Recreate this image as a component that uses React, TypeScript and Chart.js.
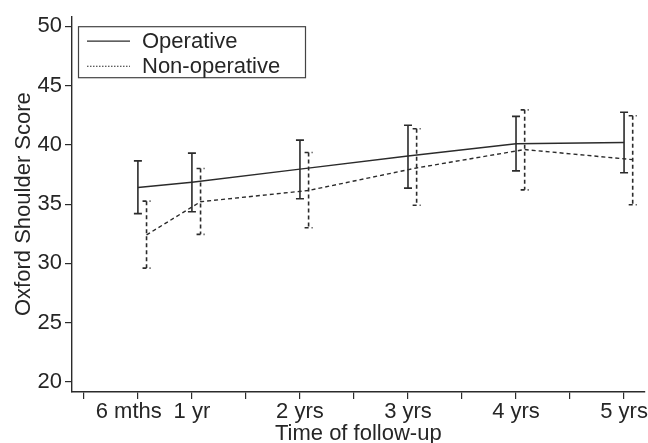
import React, { useEffect, useRef } from 'react';
import { Chart, registerables } from 'chart.js';

Chart.register(...registerables);

// ---- Data ----
const timePoints = [0.5, 1, 2, 3, 4, 5];
const timeLabels = ['6 mths\u00a0\u00a0\u00a0', '1 yr', '2 yrs', '3 yrs', '4 yrs', '5 yrs'];
const xTickValues = [0, 0.5, 1, 1.5, 2, 2.5, 3, 3.5, 4, 4.5, 5];
const yTickValues = [20, 25, 30, 35, 40, 45, 50];

const operativeMean = [36.4, 36.85, 37.95, 39.05, 40.1, 40.2];
const operativeUpper = [38.65, 39.3, 40.4, 41.65, 42.4, 42.75];
const operativeLower = [34.2, 34.35, 35.45, 36.35, 37.8, 37.65];

const nonOperativeMean = [32.4, 35.2, 36.15, 38.05, 39.6, 38.75];
const nonOperativeUpper = [35.25, 38.0, 39.35, 41.35, 42.95, 42.45];
const nonOperativeLower = [29.6, 32.45, 33.0, 34.9, 36.2, 34.95];

const seriesNames = ['Operative', 'Non-operative'];
const NONOP_SHIFT = 0.08; // years, horizontal dodge of the second series

const FONT = "'Liberation Sans', Arial, Helvetica, sans-serif";
const FS = 22;
const INK = '#262626';
const LINE = '#2b2b2b';

const errorBarPlugin = {
  id: 'errorBars',
  afterDatasetsDraw(chart: any) {
    const { ctx } = chart;
    const x = chart.scales.x;
    const y = chart.scales.y;
    chart.data.datasets.forEach((ds: any) => {
      ctx.save();
      ctx.strokeStyle = LINE;
      ctx.lineWidth = 1.6;
      ctx.setLineDash(ds.borderDash || []);
      ds.data.forEach((p: any, i: number) => {
        const px = x.getPixelForValue(p.x);
        const pyHi = y.getPixelForValue(ds.errHigh[i]);
        const pyLo = y.getPixelForValue(ds.errLow[i]);
        ctx.beginPath();
        ctx.moveTo(px, pyHi);
        ctx.lineTo(px, pyLo);
        ctx.stroke();
        ctx.beginPath();
        ctx.moveTo(px - 4, pyHi);
        ctx.lineTo(px + 4, pyHi);
        ctx.moveTo(px - 4, pyLo);
        ctx.lineTo(px + 4, pyLo);
        ctx.stroke();
      });
      ctx.restore();
    });
  },
};

const legendPlugin = {
  id: 'boxLegend',
  afterDraw(chart: any) {
    const { ctx, chartArea } = chart;
    const bx = chartArea.left + 6;
    const by = chartArea.top + 10;
    const bw = 227;
    const bh = 51;
    ctx.save();
    ctx.strokeStyle = '#444';
    ctx.lineWidth = 1.2;
    ctx.setLineDash([]);
    ctx.strokeRect(bx + 0.5, by + 0.5, bw, bh);
    ctx.font = `${FS}px ${FONT}`;
    ctx.fillStyle = INK;
    ctx.textBaseline = 'middle';
    ctx.textAlign = 'left';
    const rows = [by + 15, by + 40];
    ctx.strokeStyle = LINE;
    ctx.lineWidth = 1.3;
    ctx.beginPath();
    ctx.moveTo(bx + 9, rows[0]);
    ctx.lineTo(bx + 52, rows[0]);
    ctx.stroke();
    ctx.lineWidth = 1.1;
    ctx.setLineDash([1.5, 1.5]);
    ctx.beginPath();
    ctx.moveTo(bx + 9, rows[1]);
    ctx.lineTo(bx + 52, rows[1]);
    ctx.stroke();
    ctx.setLineDash([]);
    ctx.fillText(seriesNames[0], bx + 64, rows[0] + 1);
    ctx.fillText(seriesNames[1], bx + 64, rows[1] + 1);
    ctx.restore();
  },
};

export default function App() {
  const ref = useRef<HTMLCanvasElement | null>(null);

  useEffect(() => {
    if (!ref.current) return;
    const chart = new Chart(ref.current, {
      type: 'line',
      data: {
        datasets: [
          {
            label: seriesNames[0],
            data: timePoints.map((t, i) => ({ x: t, y: operativeMean[i] })),
            errHigh: operativeUpper,
            errLow: operativeLower,
            borderColor: LINE,
            borderWidth: 1.5,
            pointRadius: 0,
            fill: false,
            tension: 0,
          } as any,
          {
            label: seriesNames[1],
            data: timePoints.map((t, i) => ({ x: t + NONOP_SHIFT, y: nonOperativeMean[i] })),
            errHigh: nonOperativeUpper,
            errLow: nonOperativeLower,
            borderColor: LINE,
            borderWidth: 1.4,
            borderDash: [4, 3],
            pointRadius: 0,
            fill: false,
            tension: 0,
          } as any,
        ],
      },
      options: {
        responsive: false,
        animation: false,
        events: [],
        layout: { padding: { top: 12, right: 3, left: 0, bottom: 0 } },
        plugins: {
          legend: { display: false },
          tooltip: { enabled: false },
          title: { display: false },
        },
        scales: {
          x: {
            type: 'linear',
            min: -0.11,
            max: 5.19,
            afterBuildTicks: (scale: any) => {
              scale.ticks = xTickValues.map((v) => ({ value: v }));
            },
            afterFit: (scale: any) => {
              scale.height = 51;
            },
            grid: {
              display: true,
              drawOnChartArea: false,
              drawTicks: true,
              tickLength: 7,
              color: LINE,
              lineWidth: 1.2,
            },
            border: { display: true, color: LINE, width: 1.4 },
            ticks: {
              autoSkip: false,
              maxRotation: 0,
              minRotation: 0,
              padding: 0,
              color: INK,
              font: { family: FONT, size: FS },
              callback: (value: any) => {
                const idx = timePoints.indexOf(Number(value));
                return idx >= 0 ? timeLabels[idx] : '';
              },
            },
            title: {
              display: true,
              text: 'Time of follow-up',
              color: INK,
              font: { family: FONT, size: FS, lineHeight: 1 },
              padding: { top: 0, bottom: -2 },
            },
          },
          y: {
            type: 'linear',
            min: 19.15,
            max: 50.85,
            afterBuildTicks: (scale: any) => {
              scale.ticks = yTickValues.map((v) => ({ value: v }));
            },
            afterFit: (scale: any) => {
              scale.width = 72;
            },
            grid: {
              display: true,
              drawOnChartArea: false,
              drawTicks: true,
              tickLength: 7,
              color: LINE,
              lineWidth: 1.2,
            },
            border: { display: true, color: LINE, width: 1.4 },
            ticks: {
              padding: 3,
              color: INK,
              font: { family: FONT, size: FS },
              callback: (value: any) => String(value),
            },
            title: {
              display: true,
              text: 'Oxford Shoulder Score',
              color: INK,
              font: { family: FONT, size: FS, lineHeight: 1 },
              padding: { top: 13, bottom: 0 },
            },
          },
        },
      } as any,
      plugins: [errorBarPlugin, legendPlugin],
    });
    return () => chart.destroy();
  }, []);

  return (
    <div style={{ position: 'absolute', left: 0, top: 0, width: 648, height: 443, background: '#fff' }}>
      <canvas ref={ref} width={648} height={443} />
    </div>
  );
}
